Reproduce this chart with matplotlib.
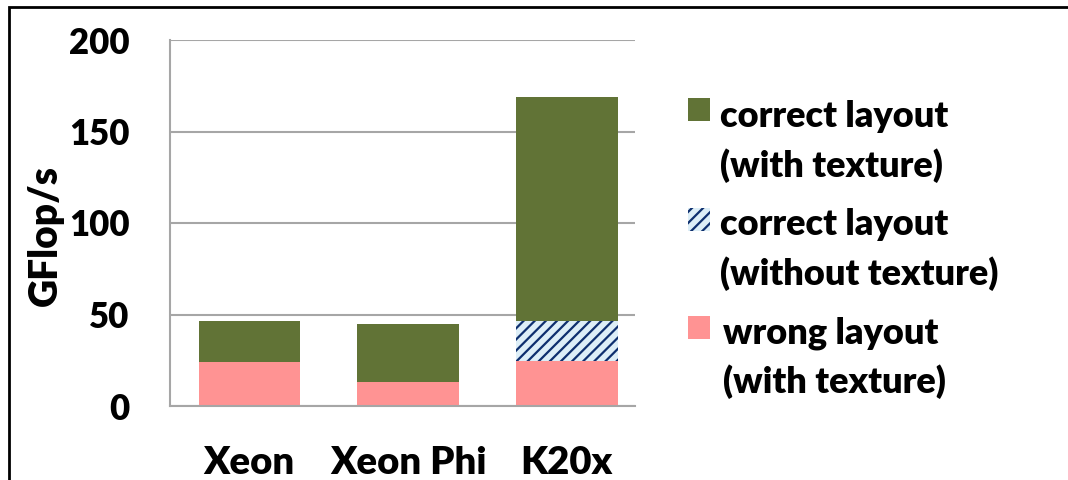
import matplotlib
matplotlib.use("Agg")
import matplotlib.pyplot as plt
from matplotlib.patches import Rectangle
import numpy as np

categories = ["Xeon", "Xeon Phi", "K20x"]
wrong_tex = [24.0, 13.0, 24.5]        # wrong layout (with texture)
correct_notex = [0.0, 0.0, 22.0]      # correct layout (without texture)
correct_tex = [22.5, 32.0, 122.5]     # correct layout (with texture)
yticks = [0, 50, 100, 150, 200]

legend_labels = [
    ("correct layout", "(with texture)"),
    ("correct layout", "(without texture)"),
    ("wrong layout", "(with texture)"),
]

GREEN = "#617336"
PINK = "#FF9393"
HATCH_FACE = "#DDEEF7"
HATCH_EDGE = "#0E2F6E"
GRID = "#A6A6A6"
WEIGHT = "heavy"

plt.rcParams["font.family"] = ["Lato", "DejaVu Sans"]
plt.rcParams["font.weight"] = WEIGHT
plt.rcParams["hatch.linewidth"] = 1.6

W, H = 1068, 480
fig = plt.figure(figsize=(W / 100, H / 100), dpi=100)
ax = fig.add_axes([170 / W, 74 / H, 465 / W, 366 / H])

x = np.arange(len(categories))
bw = 0.64
wrong = np.array(wrong_tex)
notex = np.array(correct_notex)
tex = np.array(correct_tex)

ax.bar(x, wrong, bw, color=PINK, zorder=2)
ax.bar(x, notex, bw, bottom=wrong, facecolor=HATCH_FACE, edgecolor=HATCH_EDGE,
       hatch="///", linewidth=0, zorder=2)
ax.bar(x, tex, bw, bottom=wrong + notex, color=GREEN, zorder=2)

ax.set_xlim(-0.5, 2.43)
ax.set_ylim(0, 200)
ax.set_yticks(yticks)
ax.set_yticklabels([str(v) for v in yticks])
ax.set_xticks(x)
ax.set_xticklabels(categories)
ax.yaxis.grid(True, color=GRID, linewidth=1.5, zorder=0)
ax.set_axisbelow(True)
for s in ["top", "right"]:
    ax.spines[s].set_visible(False)
for s in ["left", "bottom"]:
    ax.spines[s].set_color(GRID)
    ax.spines[s].set_linewidth(1.5)
ax.tick_params(axis="both", length=0)
ax.tick_params(axis="y", pad=29, labelsize=25)
ax.tick_params(axis="x", pad=29, labelsize=27.5)

fig.text(45 / W, 1 - 236 / H, "GFlop/s", rotation=90, fontsize=28,
         fontweight=WEIGHT, ha="center", va="center")

# legend entries
patch_tops = [98, 208, 316]
baselines = [(127, 177), (235, 285), (343, 393)]
text_x = [720, 720, 723]
styles = [
    dict(facecolor=GREEN, edgecolor="none"),
    dict(facecolor=HATCH_FACE, edgecolor=HATCH_EDGE, hatch="///", linewidth=0),
    dict(facecolor=PINK, edgecolor="none"),
]
for (l1, l2), top, (b1, b2), tx, st in zip(legend_labels, patch_tops, baselines, text_x, styles):
    fig.add_artist(Rectangle((688 / W, 1 - (top + 23) / H), 22 / W, 23 / H,
                             transform=fig.transFigure, **st))
    fig.text(tx / W, 1 - b1 / H, l1, fontsize=26, fontweight=WEIGHT, va="baseline")
    fig.text(tx / W, 1 - b2 / H, l2, fontsize=26, fontweight=WEIGHT, va="baseline")

# outer frame (left and top edges visible)
fig.add_artist(Rectangle((9 / W, -0.1), 1.2, 1 - 7 / H + 0.1, transform=fig.transFigure,
                         fill=False, edgecolor="black", linewidth=2))

fig.savefig("out.png", dpi=100)
